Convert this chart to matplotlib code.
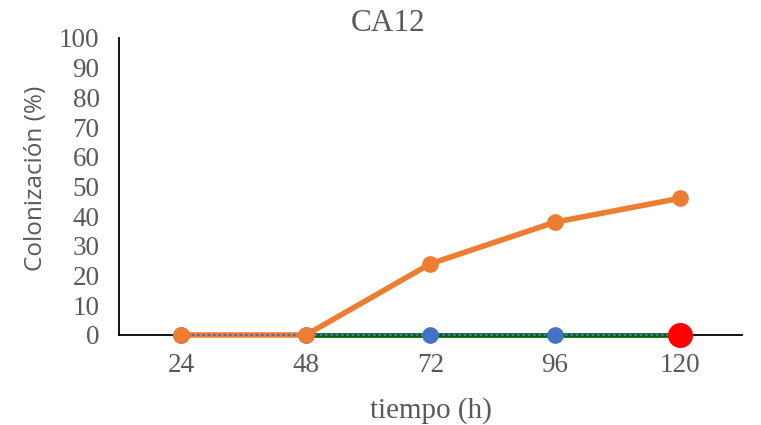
import numpy as np
import matplotlib.pyplot as plt

# colonisation (%) over time for strain CA12
tiempo = ['24', '48', '72', '96', '120']
serie_azul = [0, 0, 0, 0, 0]
serie_naranja = [0, 0, 24, 38, 46]
serie_verde = [0, 0, 0, 0]          # from 48 h onward
punto_rojo = [0]                    # single point at 120 h
yticks = list(range(0, 101, 10))

serif = 'Liberation Serif'
gris = '#595959'
azul = '#4472C4'
naranja = '#ED7D31'

fig = plt.figure(figsize=(7.61, 4.25), dpi=100)
ax = fig.add_axes([0.1564, 0.2118, 0.8186, 0.6988])

x = np.arange(len(tiempo))

# lines first, markers on top (like the spreadsheet renderer)
ax.plot(x[1:], serie_verde, color='#006400', lw=3.4, zorder=2,
        solid_capstyle='butt', clip_on=False)
ax.plot(x, serie_naranja, color=naranja, lw=4, zorder=3, clip_on=False)
ax.plot(x, serie_azul, color=azul, lw=1.6, ls=(0, (1.2, 1.2)), zorder=4,
        clip_on=False)
ax.plot(x, serie_azul, ls='none', marker='o', ms=11, mec=azul, mfc=azul,
        zorder=5, clip_on=False)
ax.plot(x, serie_naranja, ls='none', marker='o', ms=11, mec=naranja,
        mfc=naranja, zorder=6, clip_on=False)
ax.plot(x[-1:], punto_rojo, ls='none', marker='o', ms=17,
        mec='red', mfc='red', zorder=7, clip_on=False)

ax.set_xlim(-0.5, len(tiempo) - 0.5)
ax.set_ylim(0, 100)
ax.set_xticks(x)
ax.set_xticklabels(tiempo)
ax.set_yticks(yticks)

ax.spines['top'].set_visible(False)
ax.spines['right'].set_visible(False)
ax.spines['left'].set_linewidth(1.3)
ax.spines['bottom'].set_linewidth(1.3)
ax.spines['bottom'].set_zorder(1)
ax.tick_params(length=0, labelsize=19.5, labelcolor=gris)
ax.tick_params(axis='y', pad=14)
ax.tick_params(axis='x', pad=13)
for lbl in ax.get_xticklabels() + ax.get_yticklabels():
    lbl.set_family(serif)
ax.patch.set_visible(False)

fig.text(0.566, 0.033, 'tiempo (h)', ha='center', va='center', fontsize=21,
         family=serif, color=gris)
fig.text(0.047, 0.581, 'Colonización (%)', rotation=90, ha='center',
         va='center', fontsize=17.5, family='Open Sans', color=gris)
fig.text(0.51, 0.945, 'CA12', ha='center', va='center', fontsize=22.5,
         family=serif, color=gris)

fig.savefig('out.png', dpi=100)
